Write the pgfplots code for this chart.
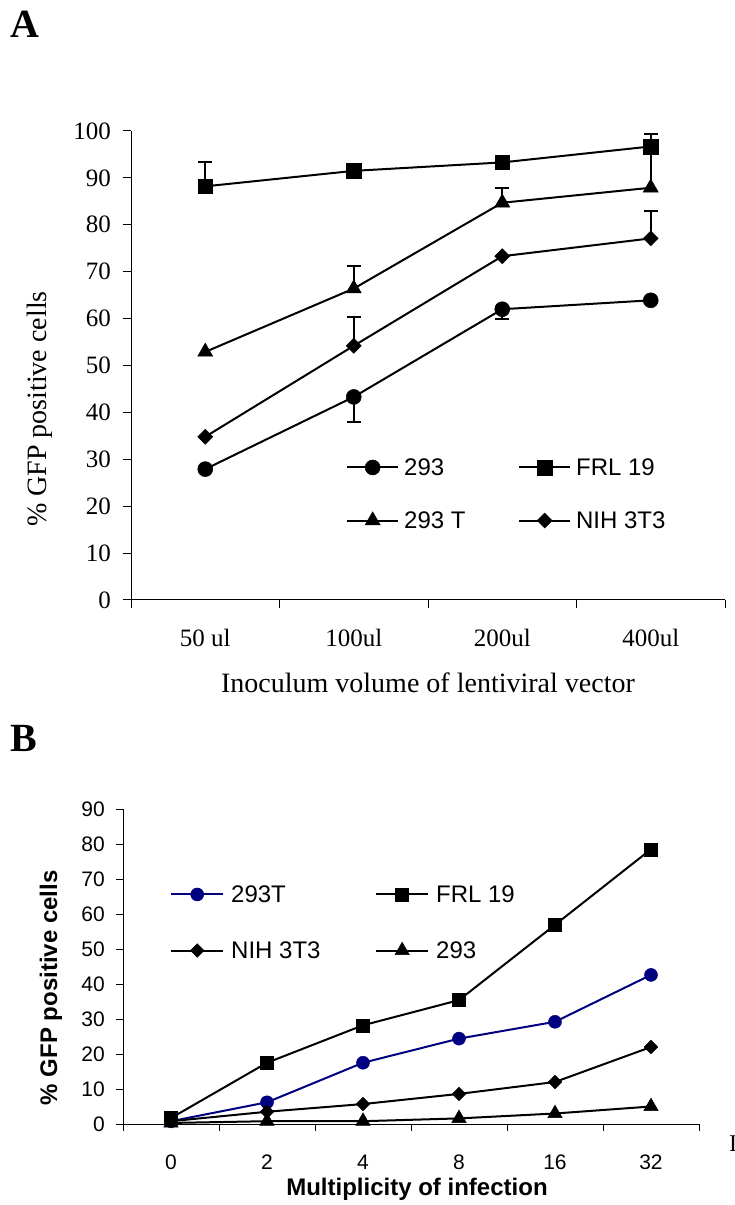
\documentclass[border=0pt]{standalone}
\usepackage{fontspec}
\setmainfont{Liberation Serif}
\newfontfamily\arial{Liberation Sans}
\usepackage{pgfplots}
\pgfplotsset{compat=1.18}
\definecolor{navy}{RGB}{0,0,128}
\newcommand{\fs}[1]{\fontsize{#1}{#1}\selectfont}

\pgfplotsset{
  panel/.style={
    scale only axis, clip=false,
    axis lines=left,
    axis line style={-, line width=1pt, black},
    tick align=outside,
    tick style={line width=1pt, black},
    /pgf/number format/assume math mode=true,
    x tick label as interval,
    legend cell align=left,
    every axis plot/.append style={line width=2pt},
  },
  lgimg/.style={legend image code/.code={
    \draw[mark repeat=2, mark phase=2] plot coordinates {(0pt,0pt) (#1/2,0pt) (#1,0pt)};}},
  errA/.style={forget plot, only marks, mark=none,
    error bars/.cd, y dir=#1, y explicit,
    error bar style={line width=2pt, black},
    error mark options={rotate=90, line width=2pt, mark size=7pt, black}},
}

\begin{document}
\begin{tikzpicture}
\useasboundingbox (0pt,0pt) rectangle (734pt,1205pt);
\node[anchor=base west, inner sep=0pt, font=\bfseries\fs{40}] at (10pt,1167pt) {A};
\node[anchor=base west, inner sep=0pt, font=\bfseries\fs{40}] at (10pt,453pt) {B};
\node[anchor=base west, inner sep=0pt, font=\fs{24}] at (729pt,53pt) {I};

% ---- panel A
\begin{axis}[panel, lgimg=51pt,
  at={(131pt,605pt)}, anchor=south west, width=594pt, height=469pt,
  xmin=0.5, xmax=4.5, ymin=0, ymax=100,
  major tick length=8pt,
  xtick={0.5,1.5,2.5,3.5,4.5}, xticklabels={50 ul,100ul,200ul,400ul},
  ytick={0,10,...,100},
  ticklabel style={font=\fs{25}, inner sep=0pt},
  yticklabel style={anchor=east, xshift=-12pt},
  xticklabel style={anchor=base, yshift=-39pt},
  xlabel={Inoculum volume of lentiviral vector},
  xlabel style={font=\fs{28}, inner sep=0pt, at={(axis description cs:0.5,-0.1983)}, anchor=base},
  ylabel={\% GFP positive cells},
  ylabel style={font=\fs{28}, inner sep=0pt, at={(axis description cs:-0.1532,0.407)}, anchor=center},
  legend columns=2,
  legend style={at={(axis description cs:0.3619,0.226)}, anchor=west,
    draw=none, fill=none, inner sep=0pt, font=\arial\fs{24},
    nodes={inner sep=0pt}, column sep=5pt, row sep=34.8pt,
    /tikz/every even column/.append style={column sep=52.6pt}},
]
% error bars (drawn first, under the markers)
\addplot[errA=minus] coordinates {(2,43.3) +- (0,5.3) (3,62.0) +- (0,2.0)};
\addplot[errA=plus] coordinates {(1,88.2) +- (0,5.1) (4,96.7) +- (0,2.6)};
\addplot[errA=plus] coordinates {(2,66.4) +- (0,4.8) (3,84.7) +- (0,3.2) (4,87.9) +- (0,7.2)};
\addplot[errA=plus] coordinates {(2,54.2) +- (0,6.2) (4,77.1) +- (0,5.9)};

\addplot[black, mark=*, mark options={solid, line width=0.5pt}, mark size=7.5pt]
  coordinates {(1,27.9) (2,43.3) (3,62.0) (4,63.9)};
\addlegendentry{293}
\addplot[black, mark=square*, mark options={solid, line width=0.5pt}, mark size=7.3pt]
  coordinates {(1,88.2) (2,91.5) (3,93.3) (4,96.7)};
\addlegendentry{FRL 19}
\addplot[black, mark=triangle*, mark options={solid, line width=0.5pt}, mark size=8.7pt]
  coordinates {(1,52.9) (2,66.4) (3,84.7) (4,87.9)};
\addlegendentry{293 T}
\addplot[black, mark=square*, mark options={solid, line width=0.5pt, rotate=45}, mark size=5.3pt]
  coordinates {(1,34.8) (2,54.2) (3,73.3) (4,77.1)};
\addlegendentry{NIH 3T3}
\end{axis}

% ---- panel B
\begin{axis}[panel, lgimg=52pt,
  at={(123pt,81pt)}, anchor=south west, width=576pt, height=315pt,
  xmin=-0.5, xmax=5.5, ymin=0, ymax=90,
  major tick length=7pt,
  xtick={-0.5,0.5,...,5.5}, xticklabels={0,2,4,8,16,32},
  ytick={0,10,...,90},
  ticklabel style={font=\arial\fs{21}, inner sep=0pt},
  yticklabel style={anchor=east, xshift=-11pt},
  xticklabel style={anchor=base, yshift=-38pt},
  xlabel={Multiplicity of infection},
  xlabel style={font=\arial\bfseries\fs{24}, inner sep=0pt, at={(axis description cs:0.5104,-0.2254)}, anchor=base},
  ylabel={\% GFP positive cells},
  ylabel style={font=\arial\bfseries\fs{24}, inner sep=0pt, at={(axis description cs:-0.125,0.432)}, anchor=center},
  legend columns=2,
  legend style={at={(axis description cs:0.0816,0.6397)}, anchor=west,
    draw=none, fill=none, inner sep=0pt, font=\arial\fs{24},
    nodes={inner sep=0pt}, column sep=7pt, row sep=37.8pt,
    /tikz/every even column/.append style={column sep=54.6pt}},
]
\addplot[navy, mark=*, mark options={solid, line width=0.5pt}, mark size=6.5pt]
  coordinates {(0,0.8) (1,6.2) (2,17.5) (3,24.4) (4,29.2) (5,42.6)};
\addlegendentry{293T}
\addplot[black, mark=square*, mark options={solid, line width=0.5pt}, mark size=6.5pt]
  coordinates {(0,1.7) (1,17.5) (2,28.2) (3,35.4) (4,56.9) (5,78.5)};
\addlegendentry{FRL 19}
\addplot[black, mark=square*, mark options={solid, line width=0.5pt, rotate=45}, mark size=4.8pt]
  coordinates {(0,0.8) (1,3.5) (2,5.7) (3,8.6) (4,12.0) (5,22.0)};
\addlegendentry{NIH 3T3}
\addplot[black, mark=triangle*, mark options={solid, line width=0.5pt}, mark size=8.3pt]
  coordinates {(0,0.3) (1,0.8) (2,0.8) (3,1.6) (4,3.0) (5,5.0)};
\addlegendentry{293}
\end{axis}
\end{tikzpicture}
\end{document}
